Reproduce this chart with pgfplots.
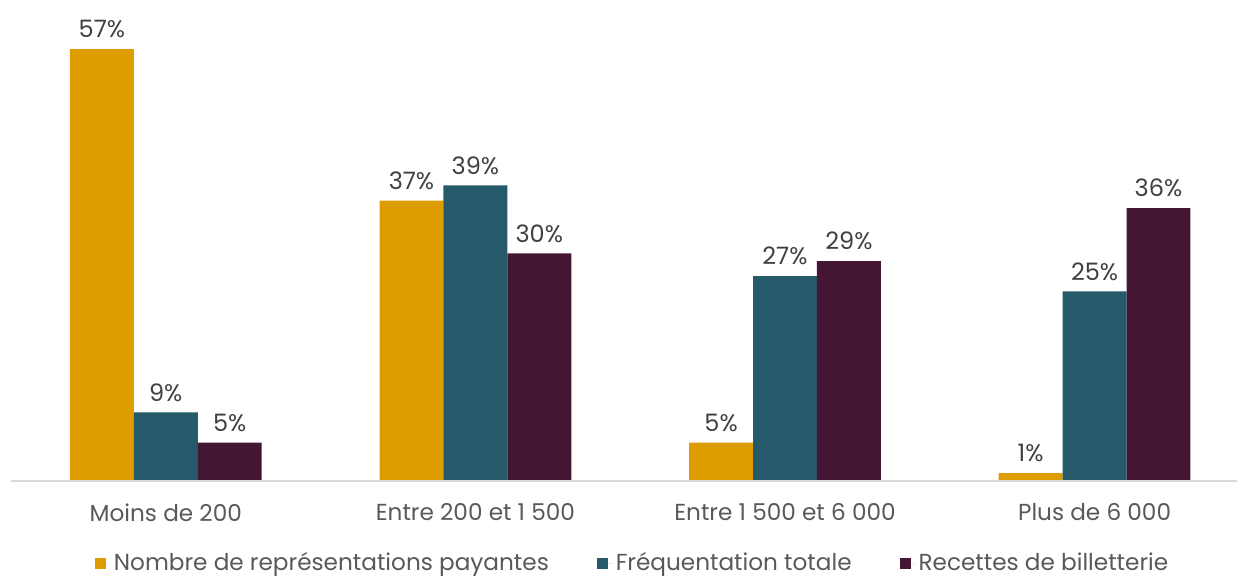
\documentclass[border=0pt]{standalone}
\usepackage{fontspec}
\setmainfont{Poppins}
\usepackage{pgfplots}
\pgfplotsset{compat=1.18}

\definecolor{gold}{RGB}{221,156,0}
\definecolor{teal}{RGB}{38,90,106}
\definecolor{plum}{RGB}{69,22,52}
\definecolor{txtgray}{RGB}{64,64,64}
\definecolor{lblgray}{RGB}{89,89,89}
\definecolor{axgray}{RGB}{217,217,217}

\begin{document}
\begin{tikzpicture}
\begin{axis}[
  scale only axis,
  x=155pt, y=3.79pt,
  xmin=-0.5355, xmax=3.46,
  ymin=0, ymax=63.46,
  axis line style={draw=none},
  ybar=0pt, bar width=32pt,
  ytick=\empty,
  xtick={0,1,2,3},
  xticklabels={Moins de 200, Entre 200 et 1 500, Entre 1 500 et 6 000, Plus de 6 000},
  major tick length=0pt,
  xticklabel style={font=\fontsize{11.6}{14}\selectfont, text=lblgray, yshift=-8pt},
  /pgf/number format/assume math mode=true,
  nodes near coords={\pgfmathprintnumber{\pgfplotspointmeta}\%},
  every node near coord/.append style={font=\fontsize{12}{14}\selectfont, text=txtgray, yshift=2pt},
  legend columns=-1,
  legend style={draw=none, at={(axis cs:1.511,-10.9)}, anchor=center,
    font=\fontsize{11.6}{14}\selectfont, text=lblgray,
    /tikz/every even column/.append style={column sep=22pt}},
  legend image code/.code={\fill[#1] (0pt,-2.75pt) rectangle (5.5pt,2.75pt);
    \path (0pt,0pt) -- (7.5pt,0pt);},
  clip=false,
]
\addplot[draw=none, fill=gold] coordinates {(0,57) (1,37) (2,5) (3,1)};
\addlegendentry{Nombre de représentations payantes}
\addplot[draw=none, fill=teal] coordinates {(0,9) (1,39) (2,27) (3,25)};
\addlegendentry{Fréquentation totale}
\addplot[draw=none, fill=plum] coordinates {(0,5) (1,30) (2,29) (3,36)};
\addlegendentry{Recettes de billetterie}
\draw[axgray, line width=1pt] (axis cs:-0.5,0) -- (axis cs:3.46,0);
\end{axis}
\end{tikzpicture}
\end{document}
